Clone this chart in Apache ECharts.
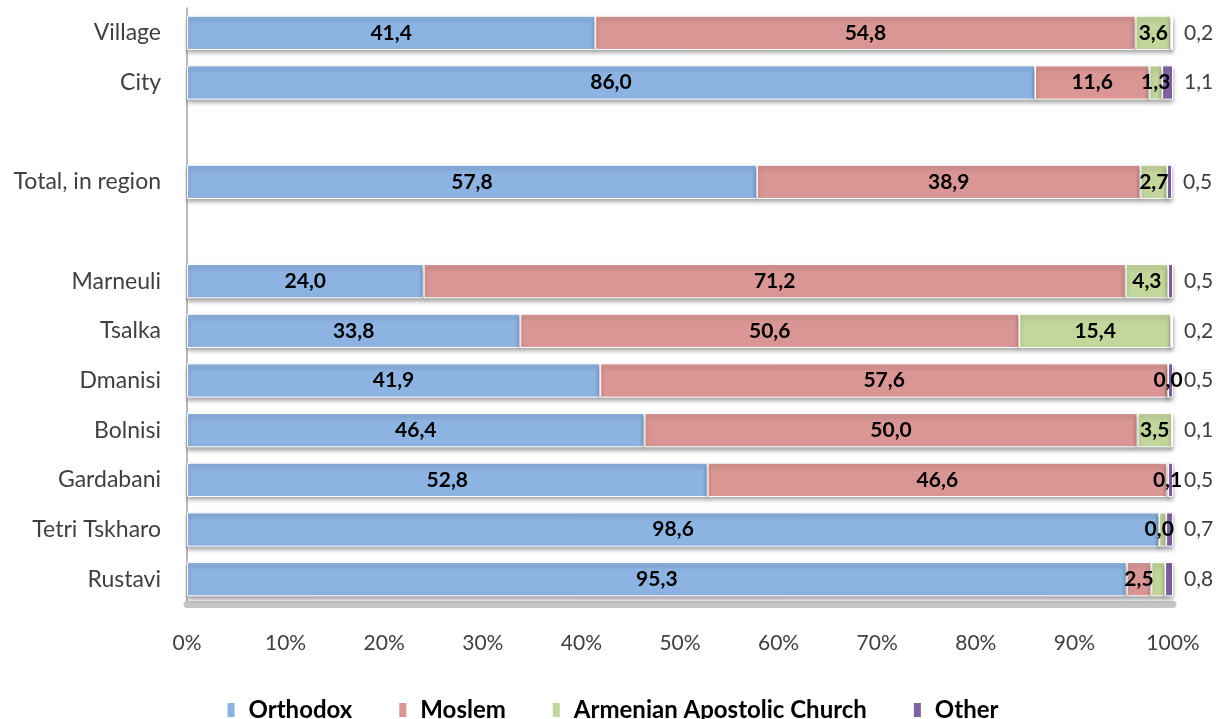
<!DOCTYPE html>
<html>
<head>
<meta charset="utf-8">
<script src="https://cdn.jsdelivr.net/npm/echarts@6/dist/echarts.min.js"></script>
<style>
  html, body { margin: 0; padding: 0; background: #fff; }
  #chart { width: 1224px; height: 719px; }
</style>
</head>
<body>
<div id="chart"></div>
<script>
// Religious composition by municipality, settlement type and region total (%)
const categories = ['Village', 'City', '', 'Total, in region', '', 'Marneuli', 'Tsalka', 'Dmanisi', 'Bolnisi', 'Gardabani', 'Tetri Tskharo', 'Rustavi'];
const orthodox  = [41.4, 86.0, null, 57.8, null, 24.0, 33.8, 41.9, 46.4, 52.8, 98.6, 95.3];
const moslem    = [54.8, 11.6, null, 38.9, null, 71.2, 50.6, 57.6, 50.0, 46.6, 0.0, 2.5];
const armenian  = [3.6, 1.3, null, 2.7, null, 4.3, 15.4, 0.0, 3.5, 0.1, 0.7, 1.4];
const other     = [0.2, 1.1, null, 0.5, null, 0.5, 0.2, 0.5, 0.1, 0.5, 0.7, 0.8];
// segments whose value label is left off (too narrow to print)
const unlabeledArmenian = ['Tetri Tskharo', 'Rustavi'];
const xTicks = [0, 10, 20, 30, 40, 50, 60, 70, 80, 90, 100];

const FONT = 'Lato, "Open Sans", sans-serif';
const fmt = v => (v == null ? '' : v.toFixed(1).replace('.', ','));

function items(values, hiddenCats) {
  return values.map((v, i) => {
    if (hiddenCats && hiddenCats.includes(categories[i])) {
      return { value: v, label: { show: false } };
    }
    return v;
  });
}

const barStyle = color => ({
  color: color,
  borderColor: '#ffffff',
  borderWidth: 1,
  shadowColor: 'rgba(0,0,0,0.35)',
  shadowBlur: 4,
  shadowOffsetY: 3
});

const insideLabel = {
  show: true,
  position: 'inside',
  formatter: p => fmt(p.value),
  fontFamily: FONT,
  fontWeight: 'bold',
  fontSize: 21,
  color: '#000'
};

const seriesDefs = [
  { name: 'Orthodox', data: items(orthodox), color: '#8DB3E2' },
  { name: 'Moslem', data: items(moslem), color: '#D99694' },
  { name: 'Armenian Apostolic Church', data: items(armenian, unlabeledArmenian), color: '#C3D69B' },
  { name: 'Other', data: items(other), color: '#8064A2' }
];

const series = seriesDefs.map((s, idx) => ({
  name: s.name,
  type: 'bar',
  stack: 'total',
  barCategoryGap: '31%',
  data: s.data,
  itemStyle: barStyle(s.color),
  label: idx === 3 ? {
    show: true,
    position: 'right',
    distance: 11,
    formatter: p => fmt(p.value),
    fontFamily: FONT,
    fontSize: 21,
    color: '#404040'
  } : insideLabel
}));

const chart = echarts.init(document.getElementById('chart'), null, { renderer: 'canvas' });
chart.setOption({
  animation: false,
  backgroundColor: '#ffffff',
  grid: { left: 187, right: 51, top: 8, bottom: 115, containLabel: false },
  xAxis: {
    type: 'value',
    min: xTicks[0],
    max: xTicks[xTicks.length - 1],
    interval: 10,
    splitLine: { show: false },
    axisTick: { show: false },
    axisLine: { show: true, lineStyle: { color: '#c6c6c6', width: 7 } },
    axisLabel: {
      margin: 29,
      formatter: v => v + '%',
      fontFamily: FONT,
      fontSize: 21,
      color: '#404040'
    }
  },
  yAxis: {
    type: 'category',
    data: categories,
    inverse: true,
    axisTick: { show: false },
    axisLine: { show: true, lineStyle: { color: '#a0a0a0', width: 1.5 } },
    axisLabel: {
      margin: 26,
      fontFamily: FONT,
      fontSize: 23,
      color: '#404040'
    }
  },
  legend: {
    bottom: -8,
    left: 'center',
    itemWidth: 9,
    itemHeight: 16,
    itemGap: 45,
    icon: 'rect',
    textStyle: { fontFamily: FONT, fontWeight: 'bold', fontSize: 24, color: '#000', padding: [0, 0, 0, 8] },
    data: seriesDefs.map(s => s.name)
  },
  series: series
});
</script>
</body>
</html>
